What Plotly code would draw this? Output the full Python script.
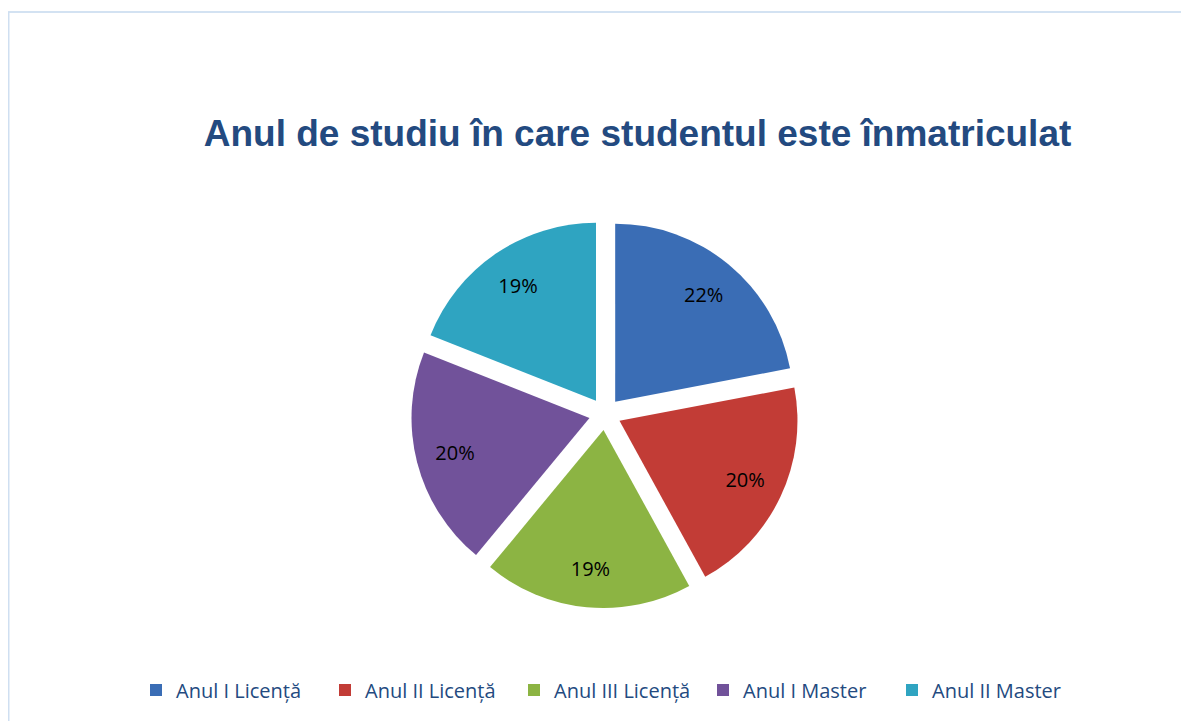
import plotly.graph_objects as go

categories = ["Anul I Licență", "Anul II Licență", "Anul III Licență", "Anul I Master", "Anul II Master"]
values = [22, 20, 19, 20, 19]
colors = ["#3a6db5", "#c23c36", "#8cb443", "#71529a", "#2fa4c1"]
title_text = "Anul de studiu în care studentul este înmatriculat"

# page body has an 8px margin; figure coordinates are compensated accordingly
W, H = 1181, 713
pie_domain = dict(x=[347 / W, 847 / W], y=[1 - 600 / H, 1 - 212 / H])
pulls = [0.09] * len(values)

fig = go.Figure()
fig.add_trace(
    go.Pie(
        labels=categories,
        values=values,
        sort=False,
        direction="clockwise",
        rotation=0,
        pull=pulls,
        marker=dict(colors=colors, line=dict(width=0)),
        textinfo="none",
        hoverinfo="label+percent",
        domain=pie_domain,
    )
)
# transparent ring carrying the percentage labels further out in each slice
fig.add_trace(
    go.Pie(
        labels=categories,
        values=values,
        sort=False,
        direction="clockwise",
        rotation=0,
        pull=pulls,
        hole=0.56,
        marker=dict(colors=["rgba(0,0,0,0)"] * len(values), line=dict(width=0)),
        texttemplate="%{value}%",
        textposition="inside",
        insidetextorientation="horizontal",
        textfont=dict(family="Open Sans, sans-serif", size=20, color="#000000"),
        hoverinfo="skip",
        showlegend=False,
        domain=pie_domain,
    )
)

fig.update_layout(
    width=W,
    height=H,
    margin=dict(l=0, r=0, t=0, b=0),
    paper_bgcolor="#ffffff",
    plot_bgcolor="#ffffff",
    title=dict(
        text=title_text,
        x=629.5 / W,
        y=1 - 125 / H,
        xanchor="center",
        yanchor="middle",
        font=dict(family="Liberation Sans, Arial, sans-serif", size=37, color="#234a80", weight="bold"),
    ),
    legend=dict(
        orientation="h",
        x=600.5 / W,
        y=1 - 682 / H,
        xanchor="center",
        yanchor="middle",
        font=dict(family="Open Sans, sans-serif", size=20, color="#234a80"),
        traceorder="normal",
        entrywidth=144,
        entrywidthmode="pixels",
    ),
    shapes=[
        dict(type="line", xref="paper", yref="paper", x0=0, x1=1.0, y0=1 - 4 / H, y1=1 - 4 / H,
             line=dict(color="#d3e2f2", width=2)),
        dict(type="line", xref="paper", yref="paper", x0=0.5 / W, x1=0.5 / W, y0=0, y1=1 - 4 / H,
             line=dict(color="#cfdff1", width=2)),
    ],
)

fig.write_html("out.html")
